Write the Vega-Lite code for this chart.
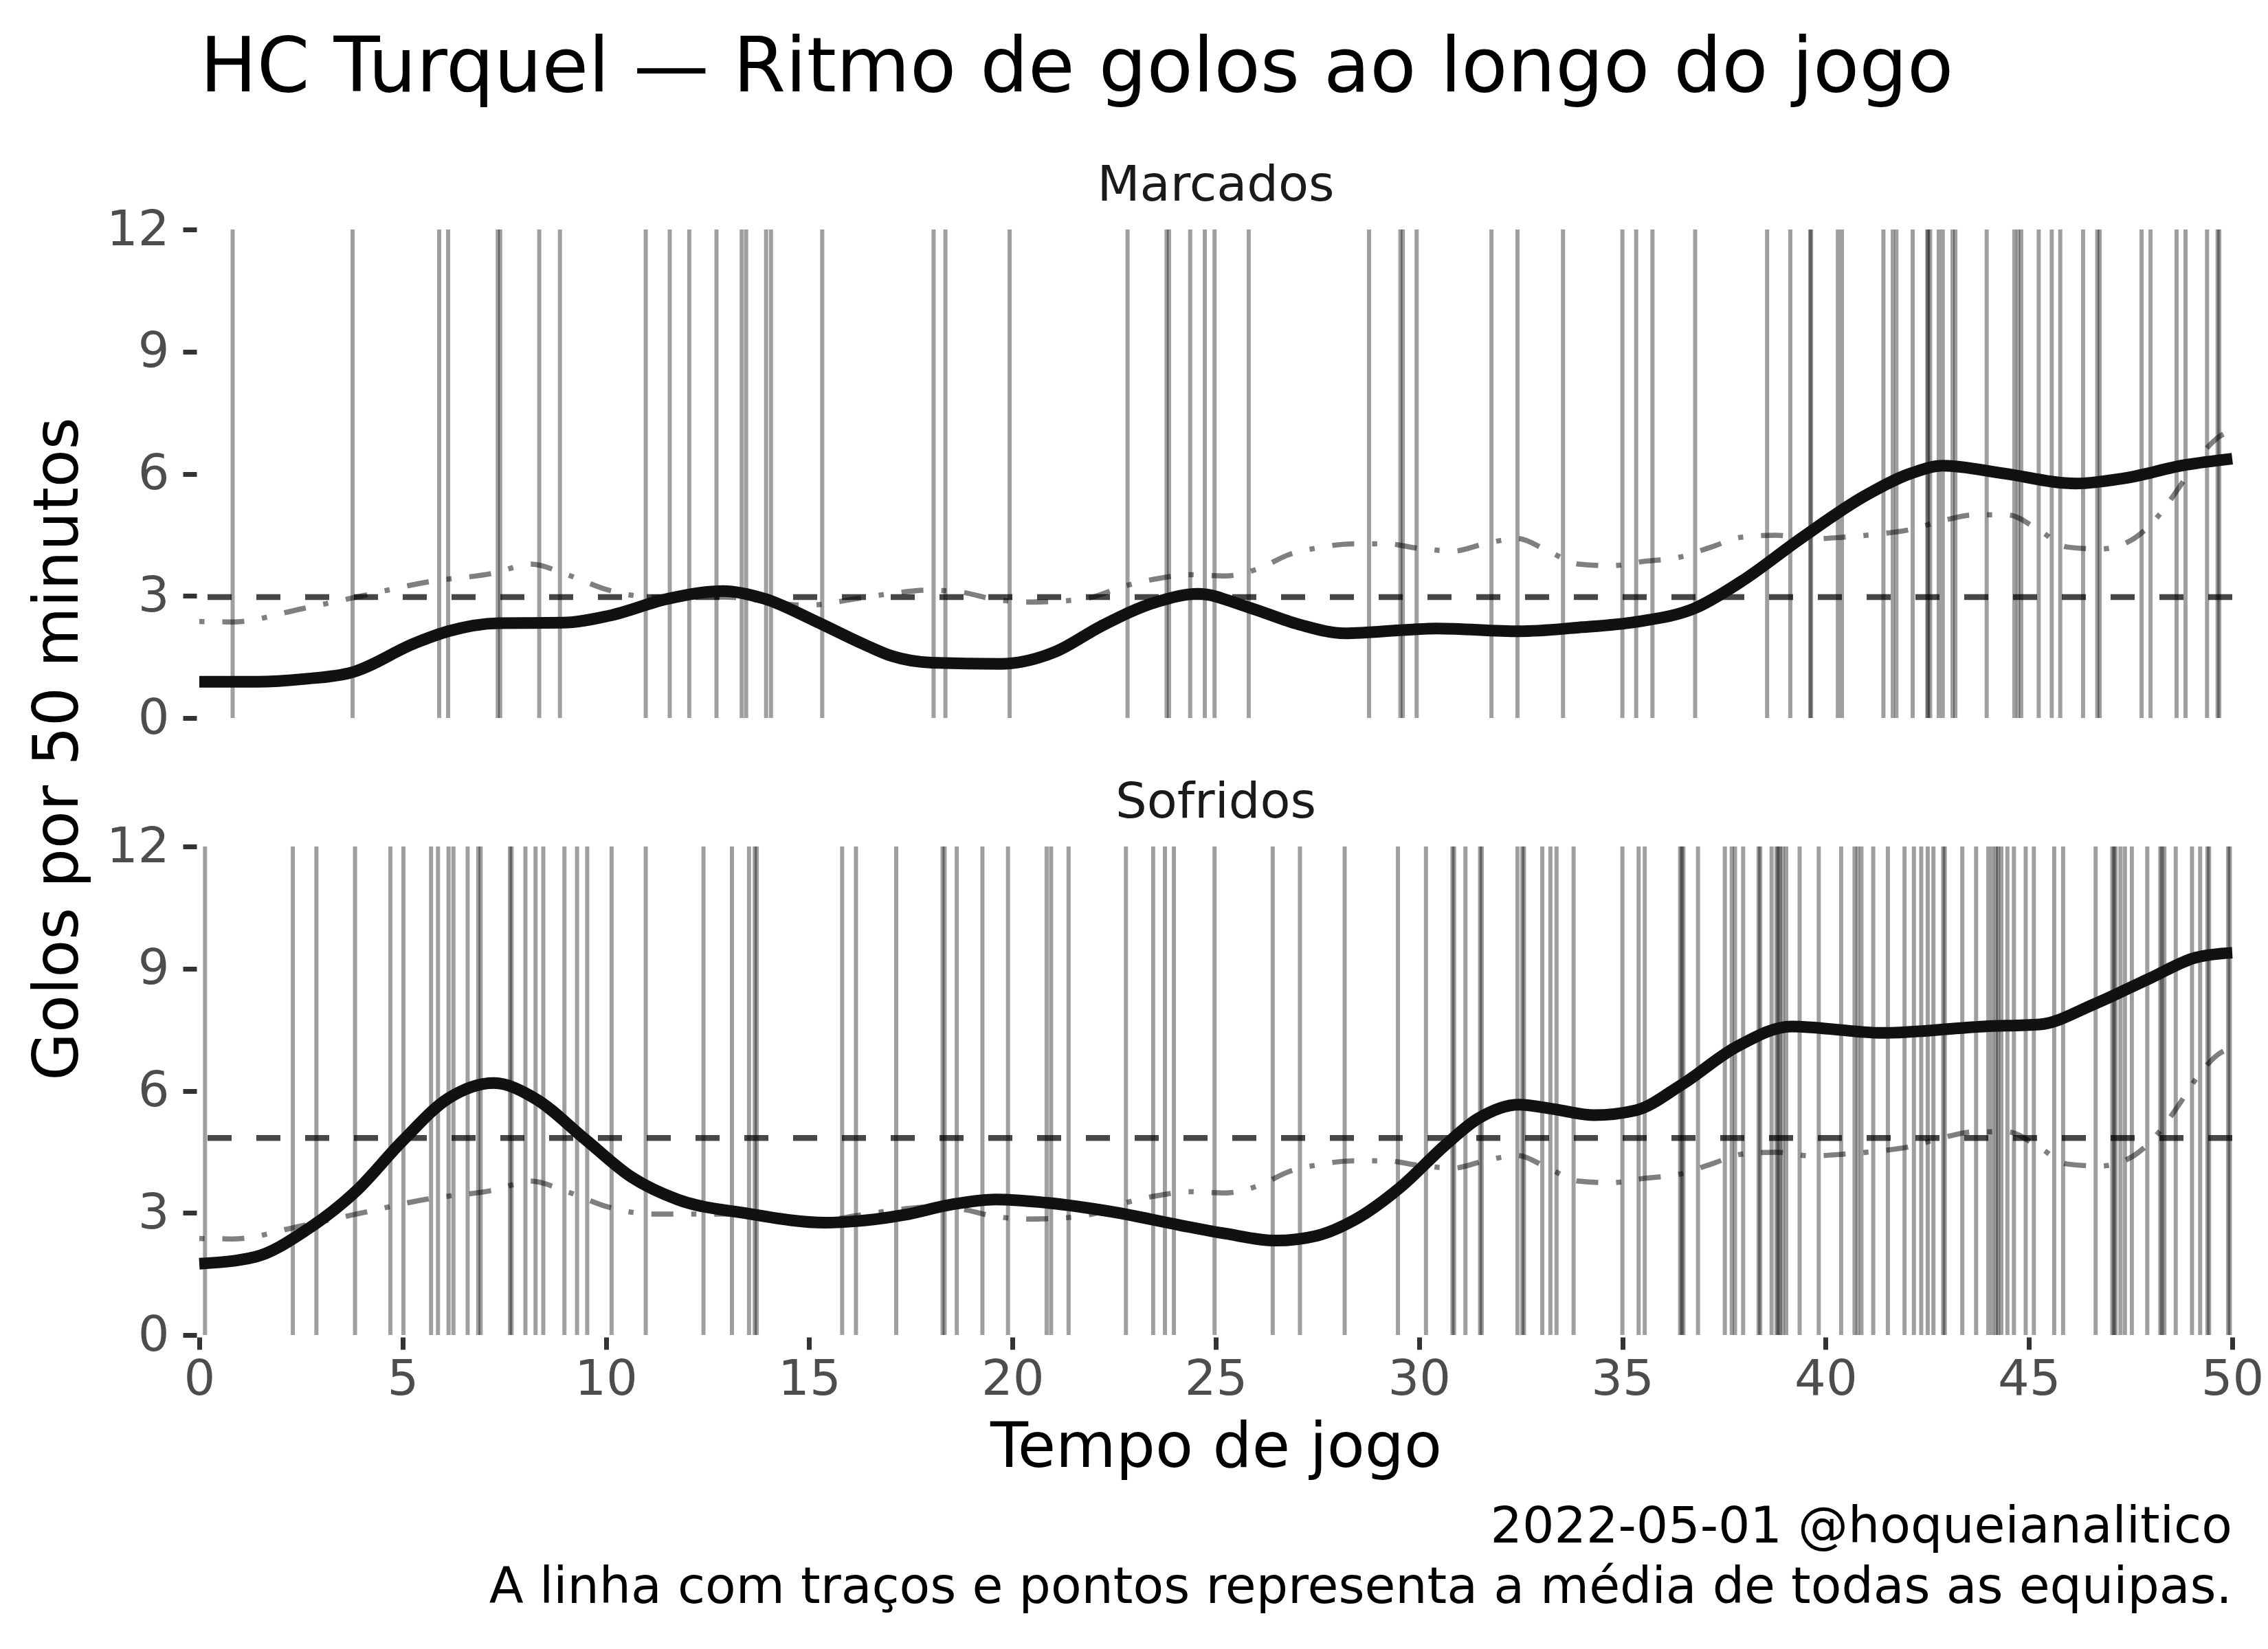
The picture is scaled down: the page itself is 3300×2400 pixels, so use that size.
{
  "$schema": "https://vega.github.io/schema/vega-lite/v6.json",
  "background": "white",
  "padding": {"left": 40, "top": 45, "right": 0, "bottom": 40},
  "title": {"text": "HC Turquel — Ritmo de golos ao longo do jogo", "anchor": "start", "fontSize": 110, "font": "DejaVu Sans", "fontWeight": "normal", "color": "#000000", "dx": 250, "offset": 78},
  "vconcat": [
    {
      "title": {"text": ["2022-05-01 @hoqueianalitico", "A linha com traços e pontos representa a média de todas as equipas."], "orient": "bottom", "anchor": "end", "dx": -46, "fontSize": 73, "font": "DejaVu Sans", "fontWeight": "normal", "color": "#000000", "lineHeight": 88, "offset": 35},
      "data": {"values": [
        {"p":"Marcados","k":"golo","x":0.82},{"p":"Marcados","k":"golo","x":3.77},{"p":"Marcados","k":"golo","x":5.90},{"p":"Marcados","k":"golo","x":6.12},{"p":"Marcados","k":"golo","x":7.34},{"p":"Marcados","k":"golo","x":7.40},{"p":"Marcados","k":"golo","x":8.36},{"p":"Marcados","k":"golo","x":8.87},{"p":"Marcados","k":"golo","x":10.98},{"p":"Marcados","k":"golo","x":11.57},{"p":"Marcados","k":"golo","x":12.05},{"p":"Marcados","k":"golo","x":12.72},{"p":"Marcados","k":"golo","x":13.34},{"p":"Marcados","k":"golo","x":13.45},{"p":"Marcados","k":"golo","x":13.94},{"p":"Marcados","k":"golo","x":14.06},{"p":"Marcados","k":"golo","x":15.32},
        {"p":"Marcados","k":"golo","x":18.06},{"p":"Marcados","k":"golo","x":18.35},{"p":"Marcados","k":"golo","x":19.93},{"p":"Marcados","k":"golo","x":22.83},{"p":"Marcados","k":"golo","x":23.79},{"p":"Marcados","k":"golo","x":23.85},{"p":"Marcados","k":"golo","x":24.37},{"p":"Marcados","k":"golo","x":24.73},{"p":"Marcados","k":"golo","x":24.97},{"p":"Marcados","k":"golo","x":25.81},{"p":"Marcados","k":"golo","x":28.77},{"p":"Marcados","k":"golo","x":29.54},{"p":"Marcados","k":"golo","x":29.60},{"p":"Marcados","k":"golo","x":29.94},{"p":"Marcados","k":"golo","x":31.78},{"p":"Marcados","k":"golo","x":32.42},{"p":"Marcados","k":"golo","x":33.54},
        {"p":"Marcados","k":"golo","x":35.00},{"p":"Marcados","k":"golo","x":35.34},{"p":"Marcados","k":"golo","x":35.74},{"p":"Marcados","k":"golo","x":36.79},{"p":"Marcados","k":"golo","x":38.56},{"p":"Marcados","k":"golo","x":39.13},{"p":"Marcados","k":"golo","x":39.62},{"p":"Marcados","k":"golo","x":39.64},{"p":"Marcados","k":"golo","x":40.30},{"p":"Marcados","k":"golo","x":40.40},{"p":"Marcados","k":"golo","x":41.42},{"p":"Marcados","k":"golo","x":41.65},{"p":"Marcados","k":"golo","x":41.74},{"p":"Marcados","k":"golo","x":42.14},{"p":"Marcados","k":"golo","x":42.50},{"p":"Marcados","k":"golo","x":42.52},{"p":"Marcados","k":"golo","x":42.57},{"p":"Marcados","k":"golo","x":42.78},{"p":"Marcados","k":"golo","x":42.88},{"p":"Marcados","k":"golo","x":43.12},{"p":"Marcados","k":"golo","x":43.19},{"p":"Marcados","k":"golo","x":43.96},{"p":"Marcados","k":"golo","x":44.64},{"p":"Marcados","k":"golo","x":44.73},{"p":"Marcados","k":"golo","x":44.81},{"p":"Marcados","k":"golo","x":45.24},{"p":"Marcados","k":"golo","x":45.56},{"p":"Marcados","k":"golo","x":45.77},{"p":"Marcados","k":"golo","x":46.33},{"p":"Marcados","k":"golo","x":46.68},{"p":"Marcados","k":"golo","x":46.74},{"p":"Marcados","k":"golo","x":47.77},{"p":"Marcados","k":"golo","x":47.99},{"p":"Marcados","k":"golo","x":48.63},{"p":"Marcados","k":"golo","x":48.85},{"p":"Marcados","k":"golo","x":49.38},{"p":"Marcados","k":"golo","x":49.64},{"p":"Marcados","k":"golo","x":49.68},
        {"p":"Sofridos","k":"golo","x":0.14},{"p":"Sofridos","k":"golo","x":2.30},{"p":"Sofridos","k":"golo","x":2.88},{"p":"Sofridos","k":"golo","x":3.83},{"p":"Sofridos","k":"golo","x":4.70},{"p":"Sofridos","k":"golo","x":5.02},{"p":"Sofridos","k":"golo","x":5.70},{"p":"Sofridos","k":"golo","x":5.87},{"p":"Sofridos","k":"golo","x":6.13},{"p":"Sofridos","k":"golo","x":6.25},{"p":"Sofridos","k":"golo","x":6.60},{"p":"Sofridos","k":"golo","x":6.86},{"p":"Sofridos","k":"golo","x":6.92},{"p":"Sofridos","k":"golo","x":7.64},{"p":"Sofridos","k":"golo","x":7.68},{"p":"Sofridos","k":"golo","x":8.02},{"p":"Sofridos","k":"golo","x":8.27},{"p":"Sofridos","k":"golo","x":8.46},{"p":"Sofridos","k":"golo","x":8.98},{"p":"Sofridos","k":"golo","x":9.29},{"p":"Sofridos","k":"golo","x":9.54},{"p":"Sofridos","k":"golo","x":10.14},{"p":"Sofridos","k":"golo","x":10.98},{"p":"Sofridos","k":"golo","x":12.40},{"p":"Sofridos","k":"golo","x":13.10},{"p":"Sofridos","k":"golo","x":13.52},{"p":"Sofridos","k":"golo","x":13.66},{"p":"Sofridos","k":"golo","x":13.71},{"p":"Sofridos","k":"golo","x":15.81},{"p":"Sofridos","k":"golo","x":16.15},
        {"p":"Sofridos","k":"golo","x":17.14},{"p":"Sofridos","k":"golo","x":18.28},{"p":"Sofridos","k":"golo","x":18.33},{"p":"Sofridos","k":"golo","x":18.63},{"p":"Sofridos","k":"golo","x":19.26},{"p":"Sofridos","k":"golo","x":19.89},{"p":"Sofridos","k":"golo","x":20.84},{"p":"Sofridos","k":"golo","x":20.95},{"p":"Sofridos","k":"golo","x":21.38},{"p":"Sofridos","k":"golo","x":22.79},{"p":"Sofridos","k":"golo","x":23.46},{"p":"Sofridos","k":"golo","x":23.75},{"p":"Sofridos","k":"golo","x":23.97},{"p":"Sofridos","k":"golo","x":24.97},{"p":"Sofridos","k":"golo","x":26.40},{"p":"Sofridos","k":"golo","x":27.07},{"p":"Sofridos","k":"golo","x":28.17},{"p":"Sofridos","k":"golo","x":29.48},{"p":"Sofridos","k":"golo","x":30.17},{"p":"Sofridos","k":"golo","x":30.82},{"p":"Sofridos","k":"golo","x":30.86},{"p":"Sofridos","k":"golo","x":31.14},{"p":"Sofridos","k":"golo","x":31.50},{"p":"Sofridos","k":"golo","x":31.54},{"p":"Sofridos","k":"golo","x":32.42},{"p":"Sofridos","k":"golo","x":32.54},{"p":"Sofridos","k":"golo","x":32.58},{"p":"Sofridos","k":"golo","x":33.03},{"p":"Sofridos","k":"golo","x":33.23},{"p":"Sofridos","k":"golo","x":33.38},{"p":"Sofridos","k":"golo","x":33.80},
        {"p":"Sofridos","k":"golo","x":35.00},{"p":"Sofridos","k":"golo","x":35.40},{"p":"Sofridos","k":"golo","x":35.55},{"p":"Sofridos","k":"golo","x":36.42},{"p":"Sofridos","k":"golo","x":36.46},{"p":"Sofridos","k":"golo","x":36.50},{"p":"Sofridos","k":"golo","x":36.86},{"p":"Sofridos","k":"golo","x":37.52},{"p":"Sofridos","k":"golo","x":37.69},{"p":"Sofridos","k":"golo","x":37.77},{"p":"Sofridos","k":"golo","x":37.97},{"p":"Sofridos","k":"golo","x":38.35},{"p":"Sofridos","k":"golo","x":38.39},{"p":"Sofridos","k":"golo","x":38.67},{"p":"Sofridos","k":"golo","x":38.79},{"p":"Sofridos","k":"golo","x":38.83},{"p":"Sofridos","k":"golo","x":38.87},{"p":"Sofridos","k":"golo","x":38.94},{"p":"Sofridos","k":"golo","x":39.03},{"p":"Sofridos","k":"golo","x":39.36},{"p":"Sofridos","k":"golo","x":39.83},{"p":"Sofridos","k":"golo","x":40.38},{"p":"Sofridos","k":"golo","x":40.71},{"p":"Sofridos","k":"golo","x":40.79},{"p":"Sofridos","k":"golo","x":40.88},{"p":"Sofridos","k":"golo","x":41.17},{"p":"Sofridos","k":"golo","x":41.53},{"p":"Sofridos","k":"golo","x":41.94},{"p":"Sofridos","k":"golo","x":42.17},{"p":"Sofridos","k":"golo","x":42.35},{"p":"Sofridos","k":"golo","x":42.51},{"p":"Sofridos","k":"golo","x":42.65},{"p":"Sofridos","k":"golo","x":42.89},{"p":"Sofridos","k":"golo","x":42.93},{"p":"Sofridos","k":"golo","x":43.36},{"p":"Sofridos","k":"golo","x":43.70},{"p":"Sofridos","k":"golo","x":44.00},{"p":"Sofridos","k":"golo","x":44.10},{"p":"Sofridos","k":"golo","x":44.19},{"p":"Sofridos","k":"golo","x":44.24},{"p":"Sofridos","k":"golo","x":44.32},{"p":"Sofridos","k":"golo","x":44.47},{"p":"Sofridos","k":"golo","x":44.63},{"p":"Sofridos","k":"golo","x":44.92},{"p":"Sofridos","k":"golo","x":45.12},{"p":"Sofridos","k":"golo","x":45.62},{"p":"Sofridos","k":"golo","x":45.84},{"p":"Sofridos","k":"golo","x":46.64},{"p":"Sofridos","k":"golo","x":47.05},{"p":"Sofridos","k":"golo","x":47.09},{"p":"Sofridos","k":"golo","x":47.13},{"p":"Sofridos","k":"golo","x":47.25},{"p":"Sofridos","k":"golo","x":47.36},{"p":"Sofridos","k":"golo","x":47.53},{"p":"Sofridos","k":"golo","x":47.91},{"p":"Sofridos","k":"golo","x":48.23},{"p":"Sofridos","k":"golo","x":48.27},{"p":"Sofridos","k":"golo","x":48.33},{"p":"Sofridos","k":"golo","x":48.61},{"p":"Sofridos","k":"golo","x":49.01},{"p":"Sofridos","k":"golo","x":49.21},{"p":"Sofridos","k":"golo","x":49.39},{"p":"Sofridos","k":"golo","x":49.43},{"p":"Sofridos","k":"golo","x":49.90},{"p":"Sofridos","k":"golo","x":49.94},
        {"p":"Marcados","k":"ref","y":2.97},{"p":"Sofridos","k":"ref","y":4.84},
        {"p":"Marcados","k":"equipa","x":0,"y":0.89},{"p":"Marcados","k":"equipa","x":1.4,"y":0.89},{"p":"Marcados","k":"equipa","x":2.6,"y":0.96},{"p":"Marcados","k":"equipa","x":3.75,"y":1.12},{"p":"Marcados","k":"equipa","x":5.33,"y":1.85},{"p":"Marcados","k":"equipa","x":6.12,"y":2.13},{"p":"Marcados","k":"equipa","x":7.36,"y":2.33},{"p":"Marcados","k":"equipa","x":8.94,"y":2.34},{"p":"Marcados","k":"equipa","x":10.07,"y":2.51},{"p":"Marcados","k":"equipa","x":11.53,"y":2.93},{"p":"Marcados","k":"equipa","x":12.89,"y":3.12},{"p":"Marcados","k":"equipa","x":13.9,"y":2.93},{"p":"Marcados","k":"equipa","x":15.15,"y":2.38},{"p":"Marcados","k":"equipa","x":16.39,"y":1.79},{"p":"Marcados","k":"equipa","x":17.04,"y":1.52},{"p":"Marcados","k":"equipa","x":18.01,"y":1.36},{"p":"Marcados","k":"equipa","x":19.71,"y":1.33},{"p":"Marcados","k":"equipa","x":21.06,"y":1.63},{"p":"Marcados","k":"equipa","x":22.19,"y":2.26},{"p":"Marcados","k":"equipa","x":23.54,"y":2.85},{"p":"Marcados","k":"equipa","x":24.56,"y":3.05},{"p":"Marcados","k":"equipa","x":25.8,"y":2.72},{"p":"Marcados","k":"equipa","x":27.04,"y":2.30},{"p":"Marcados","k":"equipa","x":28.17,"y":2.08},{"p":"Marcados","k":"equipa","x":29.75,"y":2.17},{"p":"Marcados","k":"equipa","x":30.43,"y":2.2},{"p":"Marcados","k":"equipa","x":32.46,"y":2.13},{"p":"Marcados","k":"equipa","x":33.9,"y":2.22},{"p":"Marcados","k":"equipa","x":35.33,"y":2.36},{"p":"Marcados","k":"equipa","x":36.79,"y":2.7},{"p":"Marcados","k":"equipa","x":37.92,"y":3.35},{"p":"Marcados","k":"equipa","x":39.39,"y":4.41},{"p":"Marcados","k":"equipa","x":40.97,"y":5.46},{"p":"Marcados","k":"equipa","x":42.1,"y":6.01},{"p":"Marcados","k":"equipa","x":42.89,"y":6.2},{"p":"Marcados","k":"equipa","x":44.36,"y":6.01},{"p":"Marcados","k":"equipa","x":46.16,"y":5.76},{"p":"Marcados","k":"equipa","x":47.29,"y":5.88},{"p":"Marcados","k":"equipa","x":48.87,"y":6.22},{"p":"Marcados","k":"equipa","x":50,"y":6.37},
        {"p":"Sofridos","k":"equipa","x":0,"y":1.75},{"p":"Sofridos","k":"equipa","x":1.38,"y":1.92},{"p":"Sofridos","k":"equipa","x":2.62,"y":2.57},{"p":"Sofridos","k":"equipa","x":3.86,"y":3.54},{"p":"Sofridos","k":"equipa","x":4.99,"y":4.76},{"p":"Sofridos","k":"equipa","x":6.12,"y":5.81},{"p":"Sofridos","k":"equipa","x":7.25,"y":6.19},{"p":"Sofridos","k":"equipa","x":8.26,"y":5.81},{"p":"Sofridos","k":"equipa","x":9.5,"y":4.8},{"p":"Sofridos","k":"equipa","x":10.63,"y":3.88},{"p":"Sofridos","k":"equipa","x":11.76,"y":3.33},{"p":"Sofridos","k":"equipa","x":13.45,"y":2.99},{"p":"Sofridos","k":"equipa","x":15.4,"y":2.76},{"p":"Sofridos","k":"equipa","x":16.2,"y":2.8},{"p":"Sofridos","k":"equipa","x":17.34,"y":2.95},{"p":"Sofridos","k":"equipa","x":18.47,"y":3.2},{"p":"Sofridos","k":"equipa","x":19.59,"y":3.33},{"p":"Sofridos","k":"equipa","x":20.72,"y":3.26},{"p":"Sofridos","k":"equipa","x":22.42,"y":3.03},{"p":"Sofridos","k":"equipa","x":24.11,"y":2.70},{"p":"Sofridos","k":"equipa","x":25.24,"y":2.49},{"p":"Sofridos","k":"equipa","x":26.48,"y":2.32},{"p":"Sofridos","k":"equipa","x":27.49,"y":2.44},{"p":"Sofridos","k":"equipa","x":28.4,"y":2.82},{"p":"Sofridos","k":"equipa","x":29.53,"y":3.62},{"p":"Sofridos","k":"equipa","x":30.66,"y":4.68},{"p":"Sofridos","k":"equipa","x":31.44,"y":5.31},{"p":"Sofridos","k":"equipa","x":32.46,"y":5.66},{"p":"Sofridos","k":"equipa","x":33.3,"y":5.55},{"p":"Sofridos","k":"equipa","x":34.3,"y":5.4},{"p":"Sofridos","k":"equipa","x":35.33,"y":5.52},{"p":"Sofridos","k":"equipa","x":36.46,"y":6.15},{"p":"Sofridos","k":"equipa","x":37.81,"y":7.08},{"p":"Sofridos","k":"equipa","x":39.16,"y":7.58},{"p":"Sofridos","k":"equipa","x":41.42,"y":7.42},{"p":"Sofridos","k":"equipa","x":43.9,"y":7.58},{"p":"Sofridos","k":"equipa","x":45.26,"y":7.63},{"p":"Sofridos","k":"equipa","x":46.61,"y":8.13},{"p":"Sofridos","k":"equipa","x":47.97,"y":8.76},{"p":"Sofridos","k":"equipa","x":49.1,"y":9.27},{"p":"Sofridos","k":"equipa","x":50,"y":9.39},
        {"p":"Marcados","k":"media","x":0,"y":2.37},{"p":"Marcados","k":"media","x":0.81,"y":2.36},{"p":"Marcados","k":"media","x":2.51,"y":2.68},{"p":"Marcados","k":"media","x":3.86,"y":2.97},{"p":"Marcados","k":"media","x":5.67,"y":3.35},{"p":"Marcados","k":"media","x":7.25,"y":3.56},{"p":"Marcados","k":"media","x":8.15,"y":3.78},{"p":"Marcados","k":"media","x":9.05,"y":3.52},{"p":"Marcados","k":"media","x":10.07,"y":3.14},{"p":"Marcados","k":"media","x":11.2,"y":2.97},{"p":"Marcados","k":"media","x":12.89,"y":2.97},{"p":"Marcados","k":"media","x":14.92,"y":2.77},{"p":"Marcados","k":"media","x":16.28,"y":2.95},{"p":"Marcados","k":"media","x":17.11,"y":3.07},{"p":"Marcados","k":"media","x":17.9,"y":3.14},{"p":"Marcados","k":"media","x":18.69,"y":3.1},{"p":"Marcados","k":"media","x":19.48,"y":2.93},{"p":"Marcados","k":"media","x":20.33,"y":2.85},{"p":"Marcados","k":"media","x":21.17,"y":2.87},{"p":"Marcados","k":"media","x":21.96,"y":2.97},{"p":"Marcados","k":"media","x":22.75,"y":3.24},{"p":"Marcados","k":"media","x":23.66,"y":3.44},{"p":"Marcados","k":"media","x":24.33,"y":3.52},{"p":"Marcados","k":"media","x":25.24,"y":3.49},{"p":"Marcados","k":"media","x":26.03,"y":3.66},{"p":"Marcados","k":"media","x":26.82,"y":4.02},{"p":"Marcados","k":"media","x":27.56,"y":4.19},{"p":"Marcados","k":"media","x":28.4,"y":4.28},{"p":"Marcados","k":"media","x":29.19,"y":4.28},{"p":"Marcados","k":"media","x":29.98,"y":4.17},{"p":"Marcados","k":"media","x":30.83,"y":4.1},{"p":"Marcados","k":"media","x":31.62,"y":4.28},{"p":"Marcados","k":"media","x":32.41,"y":4.41},{"p":"Marcados","k":"media","x":33.14,"y":4.12},{"p":"Marcados","k":"media","x":33.92,"y":3.78},{"p":"Marcados","k":"media","x":34.71,"y":3.74},{"p":"Marcados","k":"media","x":35.55,"y":3.85},{"p":"Marcados","k":"media","x":36.4,"y":3.95},{"p":"Marcados","k":"media","x":37.19,"y":4.2},{"p":"Marcados","k":"media","x":37.92,"y":4.44},{"p":"Marcados","k":"media","x":38.77,"y":4.49},{"p":"Marcados","k":"media","x":39.62,"y":4.4},{"p":"Marcados","k":"media","x":40.41,"y":4.44},{"p":"Marcados","k":"media","x":41.2,"y":4.51},{"p":"Marcados","k":"media","x":42.04,"y":4.62},{"p":"Marcados","k":"media","x":42.89,"y":4.85},{"p":"Marcados","k":"media","x":43.66,"y":4.99},{"p":"Marcados","k":"media","x":44.47,"y":4.99},{"p":"Marcados","k":"media","x":45.24,"y":4.62},{"p":"Marcados","k":"media","x":45.94,"y":4.2},{"p":"Marcados","k":"media","x":46.75,"y":4.15},{"p":"Marcados","k":"media","x":47.52,"y":4.37},{"p":"Marcados","k":"media","x":48.17,"y":4.95},{"p":"Marcados","k":"media","x":48.65,"y":5.6},{"p":"Marcados","k":"media","x":49.21,"y":6.43},{"p":"Marcados","k":"media","x":49.66,"y":6.9},{"p":"Marcados","k":"media","x":50,"y":7.06},
        {"p":"Sofridos","k":"media","x":0,"y":2.37},{"p":"Sofridos","k":"media","x":0.81,"y":2.36},{"p":"Sofridos","k":"media","x":2.51,"y":2.68},{"p":"Sofridos","k":"media","x":3.86,"y":2.97},{"p":"Sofridos","k":"media","x":5.67,"y":3.35},{"p":"Sofridos","k":"media","x":7.25,"y":3.56},{"p":"Sofridos","k":"media","x":8.15,"y":3.78},{"p":"Sofridos","k":"media","x":9.05,"y":3.52},{"p":"Sofridos","k":"media","x":10.07,"y":3.14},{"p":"Sofridos","k":"media","x":11.2,"y":2.97},{"p":"Sofridos","k":"media","x":12.89,"y":2.97},{"p":"Sofridos","k":"media","x":14.92,"y":2.77},{"p":"Sofridos","k":"media","x":16.28,"y":2.95},{"p":"Sofridos","k":"media","x":17.11,"y":3.07},{"p":"Sofridos","k":"media","x":17.9,"y":3.14},{"p":"Sofridos","k":"media","x":18.69,"y":3.1},{"p":"Sofridos","k":"media","x":19.48,"y":2.93},{"p":"Sofridos","k":"media","x":20.33,"y":2.85},{"p":"Sofridos","k":"media","x":21.17,"y":2.87},{"p":"Sofridos","k":"media","x":21.96,"y":2.97},{"p":"Sofridos","k":"media","x":22.75,"y":3.24},{"p":"Sofridos","k":"media","x":23.66,"y":3.44},{"p":"Sofridos","k":"media","x":24.33,"y":3.52},{"p":"Sofridos","k":"media","x":25.24,"y":3.49},{"p":"Sofridos","k":"media","x":26.03,"y":3.66},{"p":"Sofridos","k":"media","x":26.82,"y":4.02},{"p":"Sofridos","k":"media","x":27.56,"y":4.19},{"p":"Sofridos","k":"media","x":28.4,"y":4.28},{"p":"Sofridos","k":"media","x":29.19,"y":4.28},{"p":"Sofridos","k":"media","x":29.98,"y":4.17},{"p":"Sofridos","k":"media","x":30.83,"y":4.1},{"p":"Sofridos","k":"media","x":31.62,"y":4.28},{"p":"Sofridos","k":"media","x":32.41,"y":4.41},{"p":"Sofridos","k":"media","x":33.14,"y":4.12},{"p":"Sofridos","k":"media","x":33.92,"y":3.78},{"p":"Sofridos","k":"media","x":34.71,"y":3.74},{"p":"Sofridos","k":"media","x":35.55,"y":3.85},{"p":"Sofridos","k":"media","x":36.4,"y":3.95},{"p":"Sofridos","k":"media","x":37.19,"y":4.2},{"p":"Sofridos","k":"media","x":37.92,"y":4.44},{"p":"Sofridos","k":"media","x":38.77,"y":4.49},{"p":"Sofridos","k":"media","x":39.62,"y":4.4},{"p":"Sofridos","k":"media","x":40.41,"y":4.44},{"p":"Sofridos","k":"media","x":41.2,"y":4.51},{"p":"Sofridos","k":"media","x":42.04,"y":4.62},{"p":"Sofridos","k":"media","x":42.89,"y":4.85},{"p":"Sofridos","k":"media","x":43.66,"y":4.99},{"p":"Sofridos","k":"media","x":44.47,"y":4.99},{"p":"Sofridos","k":"media","x":45.24,"y":4.62},{"p":"Sofridos","k":"media","x":45.94,"y":4.2},{"p":"Sofridos","k":"media","x":46.75,"y":4.15},{"p":"Sofridos","k":"media","x":47.52,"y":4.37},{"p":"Sofridos","k":"media","x":48.17,"y":4.95},{"p":"Sofridos","k":"media","x":48.65,"y":5.6},{"p":"Sofridos","k":"media","x":49.21,"y":6.43},{"p":"Sofridos","k":"media","x":49.66,"y":6.9},{"p":"Sofridos","k":"media","x":50,"y":7.06}
      ]},
      "facet": {"field": "p", "type": "nominal", "sort": ["Marcados", "Sofridos"], "title": "Golos por 50 minutos", "header": {"labelFontSize": 72, "labelFont": "DejaVu Sans", "labelColor": "#1a1a1a", "labelPadding": 24, "titleOrient": "left", "titleAngle": -90, "titleFontSize": 90, "titleFont": "DejaVu Sans", "titleFontWeight": "normal", "titleColor": "#000000", "titlePadding": -68}},
      "columns": 1,
      "spacing": 84,
      "spec": {
        "width": 2958,
        "height": 711,
        "layer": [
          {
            "transform": [{"filter": "datum.k == 'golo'"}],
            "mark": {"type": "rule", "color": "#000000", "opacity": 0.375, "strokeWidth": 6},
            "encoding": {"x": {"field": "x", "type": "quantitative", "scale": {"domain": [0, 50], "nice": false, "zero": false}, "axis": {"title": "Tempo de jogo", "values": [0, 5, 10, 15, 20, 25, 30, 35, 40, 45, 50], "format": "d", "titlePadding": 20, "labelPadding": 8, "tickSize": 18, "labelFlush": false, "labelOverlap": false}}}
          },
          {
            "transform": [{"filter": "datum.k == 'ref'"}],
            "mark": {"type": "rule", "color": "#000000", "opacity": 0.72, "strokeWidth": 8.5, "strokeDash": [35, 36]},
            "encoding": {"y": {"field": "y", "type": "quantitative", "scale": {"domain": [0, 12], "nice": false}, "axis": {"title": null, "values": [0, 3, 6, 9, 12], "format": "d", "offset": -30}}}
          },
          {
            "transform": [{"filter": "datum.k == 'media'"}],
            "mark": {"type": "line", "color": "#000000", "opacity": 0.5, "strokeWidth": 7.5, "strokeDash": [7.5, 26, 32, 26], "interpolate": "monotone"},
            "encoding": {"x": {"field": "x", "type": "quantitative"}, "y": {"field": "y", "type": "quantitative"}}
          },
          {
            "transform": [{"filter": "datum.k == 'equipa'"}],
            "mark": {"type": "line", "color": "#111111", "strokeWidth": 17, "interpolate": "monotone"},
            "encoding": {"x": {"field": "x", "type": "quantitative"}, "y": {"field": "y", "type": "quantitative"}}
          }
        ]
      }
    }
  ],
  "config": {
    "font": "DejaVu Sans",
    "view": {"stroke": null},
    "axis": {"grid": false, "domain": false, "labelFont": "DejaVu Sans", "labelFontSize": 72, "labelColor": "#4d4d4d", "tickColor": "#333333", "tickSize": 20, "tickWidth": 7, "labelPadding": 20, "titleFont": "DejaVu Sans", "titleFontSize": 90, "titleFontWeight": "normal", "titleColor": "#000000"}
  }
}
